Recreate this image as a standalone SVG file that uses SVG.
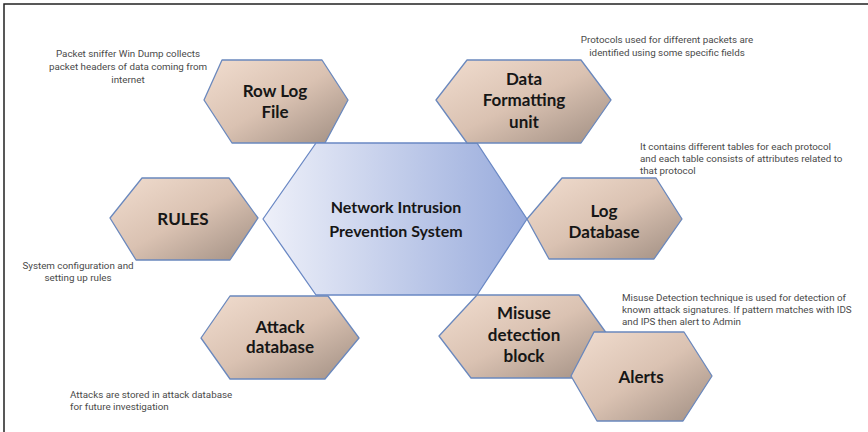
<svg xmlns="http://www.w3.org/2000/svg" width="868" height="432" viewBox="0 0 868 432">
<defs>
<linearGradient id="brown" x1="0" y1="0" x2="1" y2="1">
<stop offset="0" stop-color="#f1ddcf"/>
<stop offset="0.5" stop-color="#dac2b2"/>
<stop offset="1" stop-color="#a08e82"/>
</linearGradient>
<linearGradient id="blue" x1="0" y1="0" x2="1" y2="0">
<stop offset="0" stop-color="#eef0f9"/>
<stop offset="1" stop-color="#98abdc"/>
</linearGradient>
<style>
.hex{fill:url(#brown);stroke:#6a88bd;stroke-width:1.3;stroke-linejoin:round}
.core{fill:url(#blue);stroke:#6a88c4;stroke-width:1.3;stroke-linejoin:round}
.lbl{font-family:Lato,"Liberation Sans",sans-serif;font-weight:bold;font-size:17px;fill:#161616;text-anchor:middle}
.big{font-size:16px}
.note{font-family:Roboto,"Liberation Sans",sans-serif;font-size:9.8px;fill:#4a4a4a}
.c{text-anchor:middle}
</style>
</defs>
<rect width="868" height="432" fill="#ffffff"/>
<path d="M4,432 V4 H868" fill="none" stroke="#222" stroke-width="1.5"/>

<g id="rowlog">
<polygon class="hex" points="204,100 222,60 322,60 348,100 325,143 232,143"/>
<text class="lbl" x="275" y="97">Row Log</text>
<text class="lbl" x="275" y="118">File</text>
</g>

<g id="nips">
<polygon class="core" points="263,219 316,143 477,143 527,219 477,295 316,295"/>
<text class="lbl big" x="396" y="213">Network Intrusion</text>
<text class="lbl big" x="396" y="237">Prevention System</text>
</g>

<g id="dataformat">
<polygon class="hex" points="436,100 467,60 581,60 611,100 581,143 467,143"/>
<text class="lbl" x="524" y="85">Data</text>
<text class="lbl" x="524" y="106">Formatting</text>
<text class="lbl" x="524" y="128">unit</text>
</g>

<g id="logdb">
<polygon class="hex" points="527,219 562,178 656,178 682,219 654,259 549,259"/>
<text class="lbl" x="604" y="217">Log</text>
<text class="lbl" x="604" y="238">Database</text>
</g>

<g id="rules">
<polygon class="hex" points="110,218 142,178 229,178 258,218 230,260 136,260"/>
<text class="lbl" x="183" y="225">RULES</text>
</g>

<g id="attackdb">
<polygon class="hex" points="201,338 230,296 328,296 359,338 325,379 230,379"/>
<text class="lbl" x="280" y="333">Attack</text>
<text class="lbl" x="280" y="353">database</text>
</g>

<g id="misuse">
<polygon class="hex" points="439,336 477,295 579,295 607,334 580,378 471,378"/>
<text class="lbl" x="524" y="319">Misuse</text>
<text class="lbl" x="524" y="341">detection</text>
<text class="lbl" x="524" y="362">block</text>
</g>

<g id="alerts">
<polygon class="hex" points="571,376 594,332 684,332 712,376 683,421 597,421"/>
<text class="lbl" x="641" y="383">Alerts</text>
</g>

<g id="notes">
<text class="note c" x="128" y="57">Packet sniffer Win Dump collects</text>
<text class="note c" x="128" y="70">packet headers of data coming from</text>
<text class="note c" x="128" y="83">internet</text>
<text class="note c" x="667" y="43">Protocols used for different packets are</text>
<text class="note c" x="667" y="56">identified using some specific fields</text>
<text class="note" x="640" y="150">It contains different tables for each protocol</text>
<text class="note" x="640" y="162">and each table consists of attributes related to</text>
<text class="note" x="640" y="174">that protocol</text>
<text class="note c" x="78" y="269">System configuration and</text>
<text class="note c" x="78" y="281">setting up rules</text>
<text class="note" x="70" y="398">Attacks are stored in attack database</text>
<text class="note" x="70" y="410">for future investigation</text>
<text class="note" x="622" y="301">Misuse Detection technique is used for detection of</text>
<text class="note" x="622" y="313">known attack signatures. If pattern matches with IDS</text>
<text class="note" x="622" y="325">and IPS then alert to Admin</text>
</g>
<g id="connectors"></g>
</svg>
